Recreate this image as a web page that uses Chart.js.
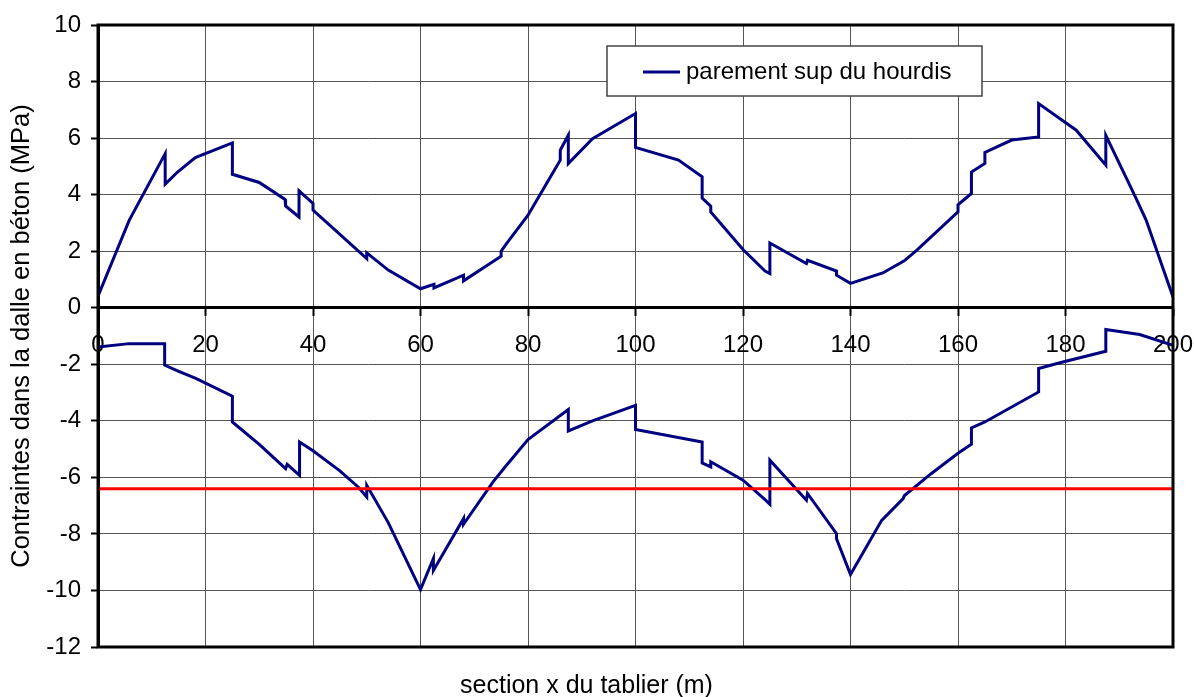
<!DOCTYPE html>
<html lang="fr">
<head>
<meta charset="utf-8">
<title>Contraintes dans la dalle</title>
<script src="https://cdn.jsdelivr.net/npm/chart.js@4.4.1/dist/chart.umd.min.js"></script>
<style>
  html, body { margin: 0; padding: 0; background: #fff; }
  #wrap { position: relative; width: 1194px; height: 697px; }
</style>
</head>
<body>
<div id="wrap"><canvas id="stressChart"></canvas></div>
<script>
/* ---------- Data: stresses along the deck (x in m, MPa) ---------- */
const xSup = [0, 5.8, 12.5, 12.5, 14.8, 18.1, 25, 25, 30, 34.8, 34.9, 37.4, 37.4, 40, 40, 50, 50, 54, 60, 62.5,
  62.5, 68, 68, 75, 75, 76, 80, 84, 86, 86, 87.5, 87.5, 92, 100, 100, 108, 112.4, 112.4, 114, 114,
  120, 124.1, 125, 125, 131.8, 132, 137.4, 137.4, 140, 146, 150, 152.3, 160, 160, 162.5, 162.5, 165, 165, 170, 175,
  175, 182, 187.5, 187.5, 193, 195, 200];
const ySup = [0.41, 3.09, 5.45, 4.37, 4.8, 5.31, 5.83, 4.72, 4.43, 3.83, 3.6, 3.21, 4.13, 3.69, 3.45, 1.74, 1.94, 1.33, 0.67, 0.83,
  0.7, 1.15, 0.95, 1.82, 2.0, 2.27, 3.27, 4.57, 5.22, 5.57, 6.1, 5.1, 5.98, 6.87, 5.67, 5.22, 4.63, 3.88, 3.59, 3.39,
  2.06, 1.3, 1.21, 2.29, 1.56, 1.68, 1.3, 1.15, 0.86, 1.23, 1.66, 2.03, 3.39, 3.64, 4.04, 4.8, 5.1, 5.49, 5.93, 6.04,
  7.22, 6.28, 5.04, 6.1, 3.92, 3.1, 0.38];

const xInf = [0, 5.8, 12.4, 12.4, 14.8, 18.2, 25, 25, 30, 34.9, 35.2, 37.5, 37.5, 40, 45, 48.4, 50, 50, 54, 60,
  62.4, 62.4, 68, 68, 73.5, 76, 80, 87.5, 87.5, 92, 100, 100, 112.4, 112.4, 114, 114, 120, 124.1, 125, 125,
  131.8, 132, 137.4, 137.4, 140, 145.8, 149.8, 150, 155, 160, 162.5, 162.5, 165, 175, 175, 179.5, 187.5, 187.5, 193.8, 200];
const yInf = [-1.39, -1.27, -1.27, -2.03, -2.23, -2.5, -3.13, -4.04, -4.83, -5.69, -5.54, -5.93, -4.75, -5.06, -5.77, -6.34, -6.69, -6.28, -7.6, -9.97,
  -8.87, -9.29, -7.46, -7.66, -6.16, -5.57, -4.66, -3.6, -4.36, -4.0, -3.45, -4.31, -4.75, -5.49, -5.63, -5.45, -6.1, -6.79, -6.95, -5.39,
  -6.81, -6.57, -7.99, -8.17, -9.44, -7.52, -6.75, -6.65, -5.87, -5.15, -4.83, -4.25, -4.04, -2.98, -2.15, -1.92, -1.54, -0.77, -0.95, -1.33];

// allowable compressive stress
const limitX = [0, 200];
const limitY = [-6.4, -6.4];

const xRange = [0, 200];
const yRange = [-12, 10];
const xStep = 20;
const yStep = 2;

const toPoints = (xs, ys) => xs.map((x, i) => ({ x, y: ys[i] }));

const FONT = "'Liberation Sans', Arial, sans-serif";
const NAVY = '#000080';

/* ---------- Plot frame + boxed legend inside the plot ---------- */
const framePlugin = {
  id: 'frame',
  afterDraw(chart) {
    const { ctx, chartArea: a } = chart;
    ctx.save();
    ctx.strokeStyle = '#000';
    ctx.lineWidth = 3;
    ctx.strokeRect(a.left, a.top, a.right - a.left, a.bottom - a.top);

    // legend box (first dataset only)
    const ds = chart.data.datasets[0];
    const bx = a.left + 509, by = a.top + 21, bw = 375, bh = 50;
    ctx.fillStyle = '#fff';
    ctx.fillRect(bx, by, bw, bh);
    ctx.strokeStyle = '#444';
    ctx.lineWidth = 1.5;
    ctx.strokeRect(bx, by, bw, bh);
    ctx.strokeStyle = ds.borderColor;
    ctx.lineWidth = 3;
    ctx.beginPath();
    ctx.moveTo(bx + 36, by + 26);
    ctx.lineTo(bx + 73, by + 26);
    ctx.stroke();
    ctx.fillStyle = '#000';
    ctx.font = `24px ${FONT}`;
    ctx.textBaseline = 'middle';
    ctx.fillText(ds.label, bx + 79, by + 26);
    ctx.restore();
  },
};

new Chart(document.getElementById('stressChart').getContext('2d'), {
  type: 'line',
  data: {
    datasets: [
      { label: 'parement sup du hourdis', data: toPoints(xSup, ySup), borderColor: NAVY, borderWidth: 3, pointRadius: 0, tension: 0, order: 2 },
      { label: 'parement inf du hourdis', data: toPoints(xInf, yInf), borderColor: NAVY, borderWidth: 3, pointRadius: 0, tension: 0, order: 1 },
      { label: 'limite', data: toPoints(limitX, limitY), borderColor: '#ff0000', borderWidth: 3, pointRadius: 0, tension: 0, order: 0 },
    ],
  },
  options: {
    responsive: true, maintainAspectRatio: false, animation: false,
    layout: { padding: { left: 0, right: 21, top: 25, bottom: 0 } },
    plugins: {
      legend: { display: false },
      tooltip: { enabled: false },
      title: {
        display: true, position: 'bottom', text: 'section x du tablier (m)',
        color: '#000', font: { family: FONT, size: 25, weight: 'normal', lineHeight: 0.88 },
        padding: { top: 28, bottom: 0 },
      },
    },
    scales: {
      x: {
        type: 'linear', min: xRange[0], max: xRange[1],
        position: { y: 0 },
        // end labels may overhang the frame, as on the original sheet
        afterFit: (scale) => { scale.paddingLeft = 0; scale.paddingRight = 0; },
        grid: { color: '#555', lineWidth: 1, tickLength: 7, tickColor: '#000', tickWidth: 2 },
        border: { color: '#000', width: 3 },
        ticks: { stepSize: xStep, autoSkip: false, maxRotation: 0, padding: 16, color: '#000', font: { family: FONT, size: 24 } },
      },
      y: {
        type: 'linear', min: yRange[0], max: yRange[1],
        afterFit: (scale) => { scale.width = 98; },
        grid: { color: '#555', lineWidth: 1, tickLength: 7, tickColor: '#000', tickWidth: 2 },
        border: { color: '#000', width: 3 },
        ticks: { stepSize: yStep, padding: 10, color: '#000', font: { family: FONT, size: 24 } },
        title: {
          display: true, text: 'Contraintes dans la dalle en béton (MPa)',
          color: '#000', font: { family: FONT, size: 25.5 }, padding: { top: 7, bottom: 0 },
        },
      },
    },
  },
  plugins: [framePlugin],
});
</script>
</body>
</html>
